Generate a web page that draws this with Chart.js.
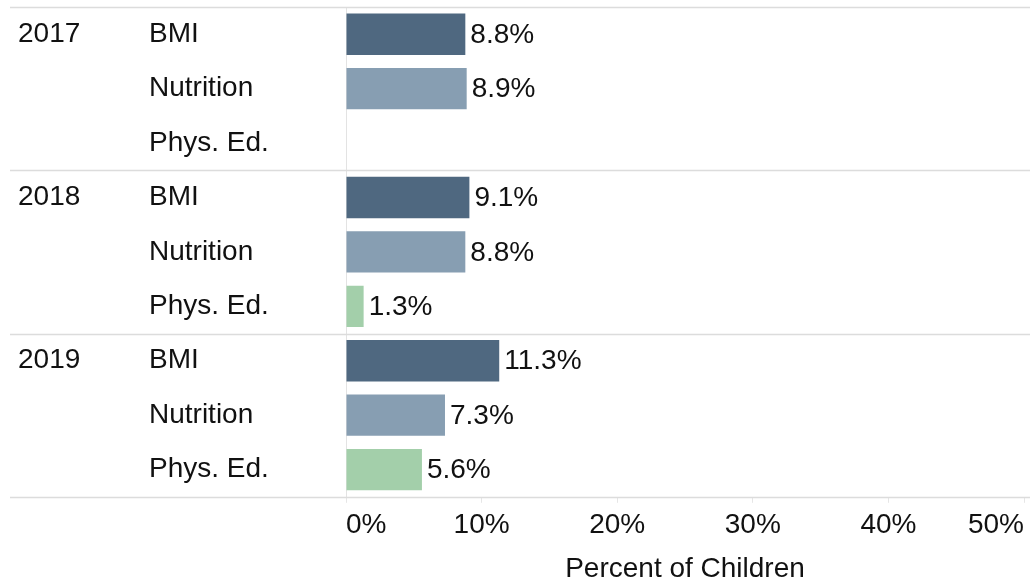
<!DOCTYPE html>
<html>
<head>
<meta charset="utf-8">
<script src="https://cdn.jsdelivr.net/npm/chart.js@4"></script>
<style>
  html, body { margin: 0; padding: 0; background: #fff; overflow: hidden; }
  #wrap { width: 1030px; height: 582px; position: relative; }
</style>
</head>
<body>
<div id="wrap"><canvas id="chart"></canvas></div>
<script>
// Data
const years = ['2017', '', '', '2018', '', '', '2019', '', ''];
const measures = ['BMI', 'Nutrition', 'Phys. Ed.', 'BMI', 'Nutrition', 'Phys. Ed.', 'BMI', 'Nutrition', 'Phys. Ed.'];
const percents = [8.8, 8.9, null, 9.1, 8.8, 1.3, 11.3, 7.3, 5.6];
const xTicks = [0, 10, 20, 30, 40, 50];

const measureColors = { 'BMI': '#4f6880', 'Nutrition': '#879eb2', 'Phys. Ed.': '#a3cfaa' };
const FONT = '"Liberation Sans", Arial, sans-serif';
const FS = 28;

// Group separator lines across the full width
const separators = {
  id: 'separators',
  afterDraw(chart) {
    const y = chart.scales.y;
    const ctx = chart.ctx;
    ctx.save();
    ctx.strokeStyle = '#dcdcdc';
    ctx.lineWidth = 1.5;
    [-0.5, 2.5, 5.5, 8.5].forEach(v => {
      const py = Math.round(y.getPixelForValue(v)) + 0.5;
      ctx.beginPath();
      ctx.moveTo(10, py);
      ctx.lineTo(chart.width, py);
      ctx.stroke();
    });
    ctx.restore();
  }
};

// Value labels to the right of the bars
const valueLabels = {
  id: 'valueLabels',
  afterDatasetsDraw(chart) {
    const ctx = chart.ctx;
    const meta = chart.getDatasetMeta(0);
    ctx.save();
    ctx.font = FS + 'px ' + FONT;
    ctx.fillStyle = '#111';
    ctx.textBaseline = 'middle';
    ctx.textAlign = 'left';
    meta.data.forEach((bar, i) => {
      const v = percents[i];
      if (v === null) return;
      ctx.fillText(v.toFixed(1) + '%', bar.x + 5, bar.y + 1);
    });
    ctx.restore();
  }
};

const noPad = (axis) => { axis.paddingTop = 0; axis.paddingBottom = 0; };

new Chart(document.getElementById('chart'), {
  type: 'bar',
  data: {
    labels: measures,
    datasets: [{
      data: percents,
      backgroundColor: measures.map(m => measureColors[m]),
      barPercentage: 0.76,
      categoryPercentage: 1
    }]
  },
  options: {
    indexAxis: 'y',
    responsive: true,
    maintainAspectRatio: false,
    animation: false,
    layout: { padding: { left: 18, top: 7, right: 0, bottom: 0 } },
    plugins: {
      legend: { display: false },
      tooltip: { enabled: false }
    },
    scales: {
      x: {
        min: 0,
        max: 50,
        afterBuildTicks: (axis) => { axis.ticks = xTicks.map(v => ({ value: v })); },
        grid: { drawOnChartArea: false, drawTicks: true, tickLength: 6, color: '#e6e6e6' },
        border: { display: false },
        ticks: {
          align: 'inner',
          padding: 6,
          color: '#111',
          font: { family: FONT, size: FS },
          callback: (v) => v + '%'
        },
        title: {
          display: true,
          text: 'Percent of Children',
          color: '#111',
          font: { family: FONT, size: FS },
          padding: { top: 4, bottom: -4 }
        }
      },
      y: {
        position: 'left',
        grid: { display: false },
        border: { display: true, color: '#e3e3e3', width: 1 },
        ticks: {
          crossAlign: 'far',
          color: '#111',
          font: { family: FONT, size: FS }
        },
        afterFit: (axis) => { axis.width = 197; noPad(axis); }
      },
      year: {
        type: 'category',
        axis: 'y',
        position: 'left',
        labels: years,
        offset: true,
        grid: { display: false },
        border: { display: false },
        ticks: {
          crossAlign: 'far',
          color: '#111',
          font: { family: FONT, size: FS }
        },
        afterFit: (axis) => { axis.width = 131; noPad(axis); }
      }
    }
  },
  plugins: [separators, valueLabels]
});
</script>
</body>
</html>
